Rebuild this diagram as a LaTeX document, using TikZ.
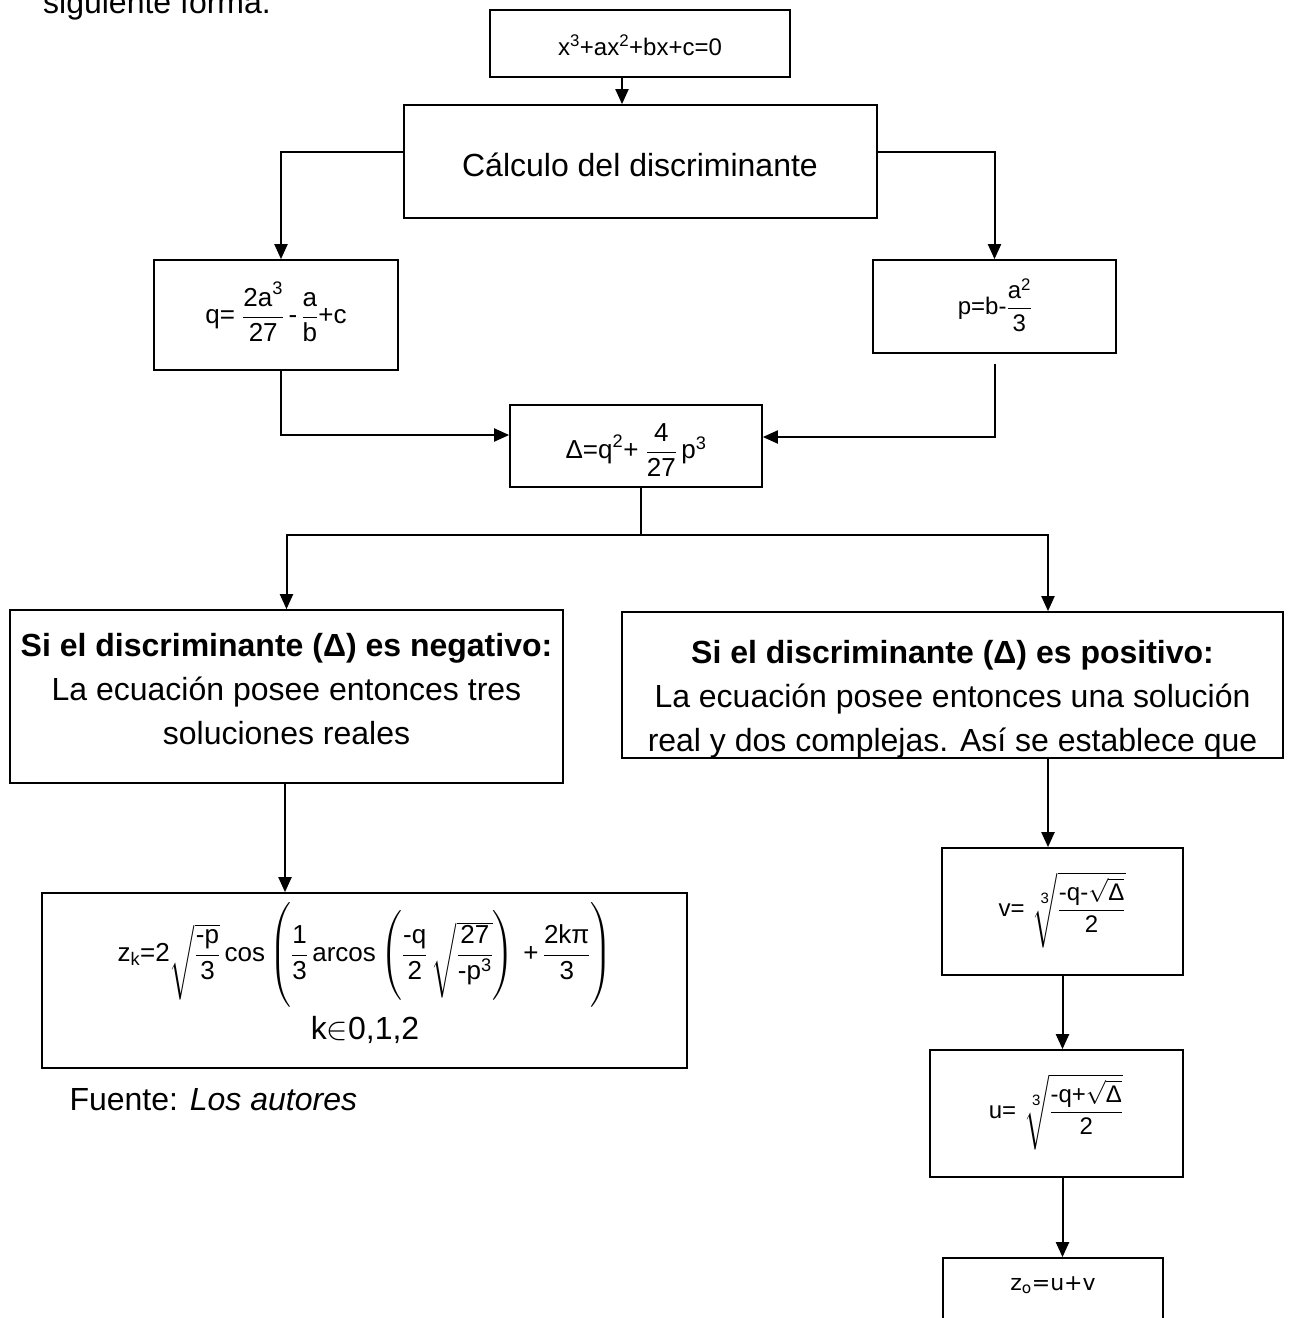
\RequirePackage{fix-cm}
\documentclass[tikz,border=0pt]{standalone}
\usepackage{amsmath}
\usepackage{fontspec}
\setmainfont{Liberation Sans}
\newfontfamily\dejavu{DejaVu Sans}
\usetikzlibrary{arrows.meta}
\newcommand{\tx}[1]{\text{#1}}
% invisible strut: depth below the baseline, then total height
\newcommand{\vstrut}[2]{\rule[-#1]{0pt}{#2}}
% cube root with a readable index
\newcommand{\cuberoot}[1]{\sqrt[\leftroot{-2}\uproot{4}\text{\fontsize{15}{15}\selectfont 3}]{\vstrut{1.2em}{2.6em}#1}}
\begin{document}
\begin{tikzpicture}[x=1pt,y=-1pt,
  box/.style={draw,line width=1.7pt,inner sep=0pt},
  arr/.style={line width=2pt,-{Triangle[length=15pt,width=13pt]}},
  ln/.style={line width=2pt},
  small/.style={font=\fontsize{24}{29}\selectfont},
  formula/.style={font=\fontsize{26}{31}\selectfont},
  big/.style={font=\fontsize{32}{44}\selectfont},
]
\useasboundingbox (0,0) rectangle (1290,1318);

% leading text line
\node[big,anchor=base west,inner sep=0pt] (S) at (43,13) {siguiente forma.};

% boxes
\node[box,minimum width=300pt,minimum height=67pt]  (T)  at (640,43.5)    {};
\node[box,minimum width=473pt,minimum height=113pt] (C)  at (640.5,161.5) {};
\node[box,minimum width=244pt,minimum height=110pt] (Q)  at (276,315)     {};
\node[box,minimum width=243pt,minimum height=93pt]  (P)  at (994.5,306.5) {};
\node[box,minimum width=252pt,minimum height=82pt]  (D)  at (636,446)     {};
\node[box,minimum width=553pt,minimum height=173pt] (L)  at (286.5,696.5) {};
\node[box,minimum width=661pt,minimum height=146pt] (R)  at (952.5,685)   {};
\node[box,minimum width=645pt,minimum height=175pt] (Z)  at (364.5,980.5) {};
\node[box,minimum width=241pt,minimum height=127pt] (V)  at (1062.5,911.5) {};
\node[box,minimum width=253pt,minimum height=127pt] (U)  at (1056.5,1113.5) {};
\node[box,minimum width=220pt,minimum height=72pt]  (Zo) at (1053,1294)   {};

% box contents
\node[small] (Tt) at (640,45) {x\textsuperscript{3}+ax\textsuperscript{2}+bx+c=0};
\node[big] (Ct) at (640,165) {Cálculo del discriminante};
\node[formula] (Qt) at (276,312) {$\tx{q=}\;\dfrac{\tx{2a}^{\tx{3}}}{\tx{27}}\,\tx{-}\,\dfrac{\tx{a}}{\tx{b}}\tx{+c}$};
\node[small] (Pt) at (995,305) {$\tx{p=b-}\dfrac{\tx{a}^{\tx{2}}}{\tx{3}}$};
\node[formula] (Dt) at (636,450) {$\tx{Δ=q}^{\tx{2}}\tx{+}\;\dfrac{\tx{4}}{\tx{27}}\,\tx{p}^{\tx{3}}$};
\node[big,align=center] (Lt) at (286.5,689)
  {\textbf{Si el discriminante (Δ) es negativo:}\\La ecuación posee entonces tres\\soluciones reales};
\node[big,align=center] (Rt) at (952.5,699)
  {\textbf{Si el discriminante (Δ) es positivo:}\\La ecuación posee entonces una solución\\real y dos complejas. Así se establece que};
\node[formula] (Zt) at (365,955)
  {$\tx{z}_{\tx{k}}\tx{=2}\sqrt{\vstrut{1.4em}{1.4em}\dfrac{\tx{-p}}{\tx{3}}}\,\tx{cos}\left(\vstrut{1.7em}{3.9em}\dfrac{\tx{1}}{\tx{3}}\,\tx{arcos}\left(\dfrac{\tx{-q}}{\tx{2}}\,\sqrt{\vstrut{1.4em}{1.4em}\dfrac{\tx{27}}{\tx{-p}^{\tx{3}}}}\right)\,\tx{+}\,\dfrac{\tx{2kπ}}{\tx{3}}\right)$};
\node[big] (Zk) at (365,1030) {k$\in$0,1,2};
\node[small] (Vt) at (1062,910) {$\tx{v=}\;\cuberoot{\dfrac{\tx{-q-}\sqrt{\tx{Δ}}}{\tx{2}}}$};
\node[small] (Ut) at (1056,1112) {$\tx{u=}\;\cuberoot{\dfrac{\tx{-q+}\sqrt{\tx{Δ}}}{\tx{2}}}$};
\node[small,font=\dejavu\fontsize{22}{26}\selectfont] (Zot) at (1053,1285) {z\textsubscript{o}=u+v};

\node[big,anchor=west] (F) at (66,1100) {Fuente: \textit{Los autores}};

% connectors
\coordinate (ts) at ([xshift=-18pt]T.south);
\draw[arr] (ts) -- (C.north -| ts);
\draw[arr] ([yshift=9.5pt]C.west) -| ([xshift=5pt]Q.north);
\draw[arr] ([yshift=9.5pt]C.east) -| (P.north);
\draw[arr] ([xshift=5pt]Q.south) |- ([yshift=11pt]D.west);
\draw[arr] ([yshift=-10pt]P.south) |- ([yshift=9pt]D.east);
\coordinate (J) at (641,535);
\draw[ln] (D.south -| J) -- (J);
\draw[arr] (J) -| (L.north);
\draw[arr] (J) -| ([xshift=95.5pt]R.north);
\coordinate (ls) at ([xshift=-1.5pt]L.south);
\draw[arr] (ls) -- (Z.north -| ls);
\coordinate (rs) at ([xshift=95.5pt]R.south);
\draw[arr] (rs) -- (V.north -| rs);
\draw[arr] (V.south) -- (U.north -| V.south);
\draw[arr] (U.south -| V.south) -- (Zo.north -| V.south);
\end{tikzpicture}
\end{document}
